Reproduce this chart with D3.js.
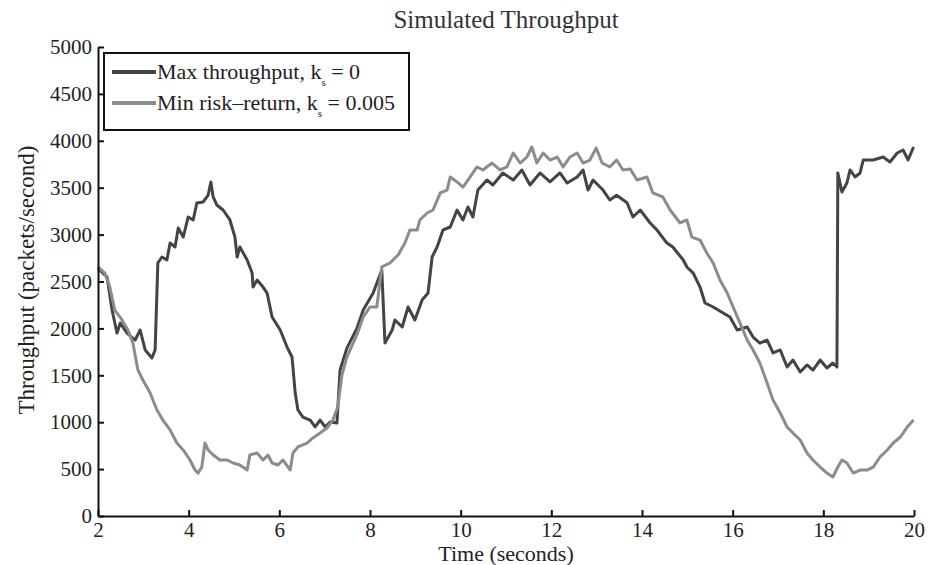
<!DOCTYPE html>
<html>
<head>
<meta charset="utf-8">
<script src="https://cdn.jsdelivr.net/npm/d3@7"></script>
<style>
  body { margin: 0; background: #fff; }
  svg { display: block; font-family: "Liberation Serif", "Times New Roman", serif; }
</style>
</head>
<body>
<div id="chart"></div>
<script>
// time axis (seconds) and throughput (packets/second)
const tMax = [2.0, 2.2, 2.31, 2.42, 2.49, 2.64, 2.82, 2.93, 3.04, 3.19, 3.26, 3.32, 3.41, 3.52, 3.59, 3.70, 3.77, 3.88, 3.99, 4.10, 4.18, 4.32, 4.43, 4.49, 4.54, 4.62, 4.76, 4.91, 5.02, 5.07, 5.13, 5.29, 5.40, 5.42, 5.51, 5.64, 5.73, 5.84, 6.02, 6.17, 6.28, 6.35, 6.41, 6.52, 6.68, 6.79, 6.90, 7.01, 7.12, 7.27, 7.34, 7.49, 7.71, 7.85, 8.07, 8.26, 8.33, 8.49, 8.55, 8.71, 8.84, 8.99, 9.15, 9.28, 9.37, 9.48, 9.61, 9.77, 9.92, 10.05, 10.16, 10.27, 10.38, 10.58, 10.71, 10.93, 11.16, 11.35, 11.53, 11.75, 11.97, 12.19, 12.35, 12.57, 12.70, 12.81, 12.92, 13.14, 13.29, 13.44, 13.67, 13.80, 13.96, 14.18, 14.33, 14.55, 14.68, 14.91, 14.99, 15.13, 15.28, 15.39, 15.57, 15.79, 15.94, 16.10, 16.32, 16.45, 16.60, 16.76, 16.89, 17.05, 17.20, 17.33, 17.49, 17.64, 17.77, 17.93, 18.08, 18.21, 18.30, 18.32, 18.41, 18.52, 18.59, 18.70, 18.81, 18.88, 19.10, 19.32, 19.47, 19.63, 19.76, 19.87, 19.99];
const maxThroughput = [2640, 2548, 2196, 1950, 2058, 1950, 1876, 1983, 1770, 1684, 1770, 2697, 2761, 2729, 2910, 2868, 3070, 2974, 3188, 3156, 3337, 3348, 3422, 3561, 3401, 3316, 3262, 3156, 2974, 2761, 2868, 2729, 2590, 2441, 2516, 2441, 2377, 2121, 1983, 1801, 1695, 1311, 1130, 1055, 1023, 949, 1023, 949, 1002, 991, 1556, 1790, 2000, 2196, 2377, 2623, 1844, 1983, 2090, 2015, 2228, 2090, 2303, 2377, 2761, 2868, 3049, 3081, 3262, 3156, 3294, 3188, 3475, 3582, 3529, 3657, 3582, 3689, 3529, 3657, 3561, 3657, 3550, 3614, 3689, 3475, 3582, 3475, 3369, 3420, 3340, 3188, 3262, 3124, 3049, 2910, 2868, 2729, 2655, 2590, 2441, 2271, 2228, 2164, 2121, 1983, 2015, 1908, 1844, 1876, 1738, 1770, 1588, 1663, 1535, 1610, 1556, 1663, 1578, 1631, 1588, 3657, 3454, 3550, 3689, 3614, 3657, 3795, 3795, 3827, 3774, 3870, 3902, 3795, 3934];

const tMinRisk = [2.0, 2.15, 2.26, 2.37, 2.53, 2.66, 2.77, 2.88, 2.99, 3.15, 3.30, 3.43, 3.59, 3.74, 3.88, 4.03, 4.14, 4.21, 4.29, 4.36, 4.43, 4.54, 4.69, 4.85, 4.98, 5.13, 5.29, 5.35, 5.51, 5.64, 5.75, 5.84, 5.97, 6.08, 6.24, 6.30, 6.41, 6.61, 6.74, 6.90, 7.05, 7.18, 7.29, 7.38, 7.49, 7.71, 7.85, 8.0, 8.15, 8.26, 8.44, 8.62, 8.77, 8.88, 9.04, 9.10, 9.26, 9.39, 9.55, 9.70, 9.77, 9.92, 10.05, 10.16, 10.36, 10.49, 10.69, 10.87, 11.02, 11.16, 11.31, 11.46, 11.57, 11.68, 11.82, 11.97, 12.13, 12.26, 12.41, 12.57, 12.70, 12.85, 12.99, 13.12, 13.29, 13.44, 13.58, 13.74, 13.89, 14.11, 14.24, 14.46, 14.62, 14.84, 14.99, 15.10, 15.28, 15.43, 15.57, 15.72, 15.88, 16.01, 16.16, 16.32, 16.45, 16.60, 16.76, 16.89, 17.05, 17.20, 17.33, 17.49, 17.64, 17.77, 17.93, 18.08, 18.21, 18.32, 18.41, 18.52, 18.66, 18.81, 18.96, 19.10, 19.25, 19.41, 19.54, 19.70, 19.85, 19.99];
const minRiskReturn = [2655, 2590, 2441, 2196, 2090, 1983, 1844, 1556, 1450, 1311, 1130, 1023, 917, 778, 704, 597, 490, 458, 522, 778, 704, 650, 597, 597, 565, 544, 490, 650, 672, 597, 650, 565, 544, 597, 490, 672, 736, 778, 832, 885, 938, 1023, 1162, 1500, 1695, 1930, 2121, 2228, 2228, 2655, 2697, 2783, 2910, 3049, 3049, 3156, 3230, 3262, 3444, 3475, 3614, 3561, 3507, 3582, 3721, 3689, 3763, 3689, 3721, 3870, 3763, 3827, 3934, 3763, 3870, 3795, 3827, 3721, 3827, 3870, 3763, 3795, 3923, 3763, 3721, 3795, 3689, 3700, 3582, 3614, 3444, 3401, 3262, 3124, 3156, 2974, 2942, 2804, 2697, 2516, 2377, 2228, 2058, 1876, 1770, 1631, 1418, 1237, 1098, 949, 885, 810, 672, 597, 522, 458, 416, 522, 597, 565, 458, 490, 490, 522, 629, 704, 778, 842, 949, 1023];

const xTicks = [2, 4, 6, 8, 10, 12, 14, 16, 18, 20];
const yTicks = [0, 500, 1000, 1500, 2000, 2500, 3000, 3500, 4000, 4500, 5000];

const seriesNames = ["Max throughput, k", "Min risk\u2013return, k"];
const seriesValues = ["= 0", "= 0.005"];
const colors = ["#444444", "#8c8c8c"];

const width = 936, height = 565;
const margin = { top: 47, right: 22, bottom: 49, left: 98 };

const svg = d3.select("#chart").append("svg")
  .attr("width", width)
  .attr("height", height);

const x = d3.scaleLinear().domain([2, 20]).range([margin.left, width - margin.right]);
const y = d3.scaleLinear().domain([0, 5000]).range([height - margin.bottom, margin.top]);

// lines
const series = [
  tMax.map((t, i) => [t, maxThroughput[i]]),
  tMinRisk.map((t, i) => [t, minRiskReturn[i]])
];
const line = d3.line().x(d => x(d[0])).y(d => y(d[1]));

// same order as matlab: second series ends up on top
series.forEach((s, i) => {
  svg.append("path")
    .datum(s)
    .attr("fill", "none")
    .attr("stroke", colors[i])
    .attr("stroke-width", 3)
    .attr("stroke-linejoin", "round")
    .attr("d", line);
});

// axes - matlab style, ticks pointing inward
const xAxis = svg.append("g")
  .attr("transform", `translate(0, ${y(0)})`)
  .call(d3.axisBottom(x).tickValues(xTicks).tickFormat(d3.format("d"))
    .tickSizeInner(-6).tickSizeOuter(0).tickPadding(6));
const yAxis = svg.append("g")
  .attr("transform", `translate(${x(2)}, 0)`)
  .call(d3.axisLeft(y).tickValues(yTicks).tickFormat(d3.format("d"))
    .tickSizeInner(-6).tickSizeOuter(0).tickPadding(6));

[xAxis, yAxis].forEach(a => {
  a.select(".domain").attr("stroke", "#111").attr("stroke-width", 2);
  a.selectAll(".tick line").attr("stroke", "#111").attr("stroke-width", 2);
  a.selectAll(".tick text")
    .style("font-family", "Liberation Serif, serif")
    .style("font-size", "21px")
    .attr("fill", "#222");
});

// title and labels
svg.append("text")
  .attr("x", 506).attr("y", 28)
  .attr("text-anchor", "middle")
  .style("font-size", "25px")
  .attr("fill", "#333")
  .text("Simulated Throughput");

svg.append("text")
  .attr("x", 506).attr("y", 561)
  .attr("text-anchor", "middle")
  .style("font-size", "22px")
  .attr("fill", "#222")
  .text("Time (seconds)");

svg.append("text")
  .attr("transform", "translate(34, 280) rotate(-90)")
  .attr("text-anchor", "middle")
  .style("font-size", "23px")
  .attr("fill", "#222")
  .text("Throughput (packets/second)");

// legend
const legend = svg.append("g").attr("transform", "translate(104, 53)");
legend.append("rect")
  .attr("width", 305).attr("height", 77)
  .attr("fill", "#fff")
  .attr("stroke", "#111")
  .attr("stroke-width", 2);

seriesNames.forEach((name, i) => {
  const g = legend.append("g").attr("transform", `translate(0, ${19 + i * 31})`);
  g.append("line")
    .attr("x1", 8).attr("x2", 52)
    .attr("stroke", colors[i]).attr("stroke-width", 4);
  const txt = g.append("text")
    .attr("x", 53).attr("y", 7)
    .style("font-size", "22px")
    .attr("fill", "#222");
  txt.append("tspan").text(name);
  txt.append("tspan").attr("dy", 7).style("font-size", "11px").text("s");
  txt.append("tspan").attr("dy", -7).text(" " + seriesValues[i]);
});
</script>
</body>
</html>
